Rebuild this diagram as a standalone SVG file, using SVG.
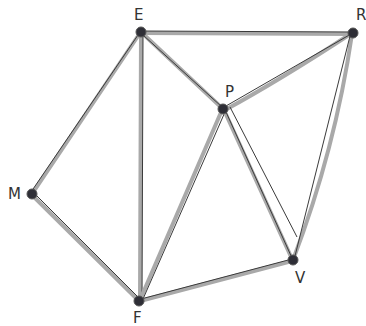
<svg xmlns="http://www.w3.org/2000/svg" width="366" height="326" viewBox="0 0 366 326">
<style>
.g{stroke:#a9a9a9;stroke-width:4;fill:none;stroke-linecap:round}
.d{stroke:#3a3a3a;stroke-width:1;fill:none}
.n{fill:#2e2e36;stroke:#555;stroke-width:1}
.t{font-family:"DejaVu Sans","Liberation Sans",sans-serif;font-size:15px;fill:#333}
</style>
<rect width="366" height="326" fill="#fff"/>
<g id="edges">
<line class="g" x1="141" y1="33" x2="353" y2="34"/><line class="d" x1="141" y1="31" x2="353" y2="32"/>
<line class="g" x1="141" y1="32" x2="223" y2="109"/><line class="d" x1="143" y1="35" x2="222" y2="107"/>
<line class="g" x1="140" y1="33" x2="32" y2="194"/><line class="d" x1="138" y1="35" x2="31" y2="192"/>
<line class="g" x1="141" y1="33" x2="140" y2="301"/><line class="d" x1="143" y1="36" x2="142" y2="300"/>
<path class="g" d="M225 110 Q280 80 352 33"/><line class="d" x1="226" y1="106" x2="351" y2="34"/>
<line class="g" x1="222" y1="110" x2="140" y2="300"/><line class="d" x1="225" y1="112" x2="143" y2="299"/>
<line class="g" x1="224" y1="110" x2="292" y2="259"/><line class="d" x1="226" y1="112" x2="292" y2="258"/>
<line class="d" x1="230" y1="107" x2="297" y2="237"/>
<path class="g" d="M352 34 Q335 150 293 260"/><line class="d" x1="350" y1="36" x2="295" y2="256"/>
<line class="g" x1="33" y1="196" x2="139" y2="301"/><line class="d" x1="34" y1="193" x2="140" y2="299"/>
<line class="g" x1="140" y1="301" x2="292" y2="261"/><line class="d" x1="141" y1="299" x2="292" y2="259"/>
</g>
<g id="E"><circle class="n" cx="141" cy="32" r="5"/><text class="t" x="134" y="20">E</text></g>
<g id="R"><circle class="n" cx="353" cy="33" r="5"/><text class="t" x="356" y="20">R</text></g>
<g id="P"><circle class="n" cx="223" cy="109" r="5"/><text class="t" x="225" y="97">P</text></g>
<g id="M"><circle class="n" cx="32" cy="194" r="5"/><text class="t" x="8" y="199">M</text></g>
<g id="F"><circle class="n" cx="139" cy="301" r="5"/><text class="t" x="133" y="323">F</text></g>
<g id="V"><circle class="n" cx="293" cy="260" r="5"/><text class="t" x="295" y="283">V</text></g>
</svg>
